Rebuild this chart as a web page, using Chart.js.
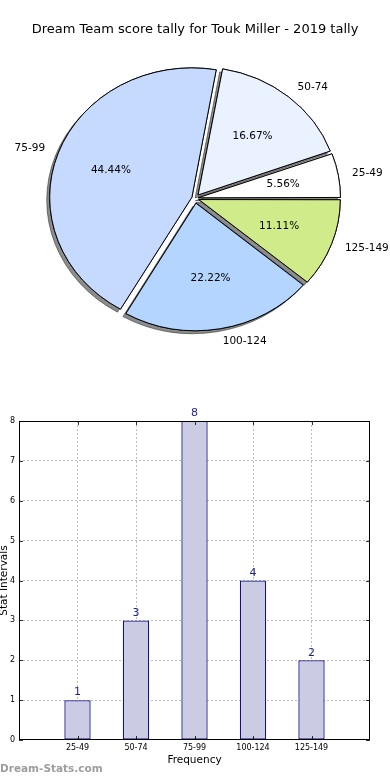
<!DOCTYPE html>
<html lang="en">
<head>
  <meta charset="UTF-8">
  <title>Dream Team score tally for Touk Miller - 2019 tally</title>
  <script src="https://cdn.jsdelivr.net/npm/chart.js"></script>
  <style>
    html, body { margin: 0; padding: 0; background: #fff; }
    body { width: 390px; height: 780px; position: relative; overflow: hidden; font-family: 'DejaVu Sans', sans-serif; }
    #pieWrap { position: absolute; left: 0; top: 0; width: 390px; height: 395px; }
    #barWrap { position: absolute; left: 0; top: 395px; width: 390px; height: 385px; }
    .watermark { position: absolute; left: 0; top: 762px; font: bold 10.5px 'DejaVu Sans', sans-serif; color: #9d9d9d; }
  </style>
</head>
<body>
  <div id="pieWrap"><canvas id="pieChart"></canvas></div>
  <div id="barWrap"><canvas id="barChart"></canvas></div>
  <div class="watermark">Dream-Stats.com</div>

  <script>
    // data
    var categories = ['25-49', '50-74', '75-99', '100-124', '125-149'];
    var counts = [1, 3, 8, 4, 2];
    var sliceColors = ['#ffffff', '#eaf1ff', '#c6d9ff', '#b4d5ff', '#cfeb8a'];
    var yTicks = [0, 1, 2, 3, 4, 5, 6, 7, 8];

    var total = counts.reduce(function (a, b) { return a + b; }, 0);

    // matplotlib goes counter-clockwise from 3 o'clock, chart.js clockwise -> reverse order
    var pieLabels = categories.slice().reverse();
    var pieValues = counts.slice().reverse();
    var pieFill = sliceColors.slice().reverse();

    var EXPLODE = 5.5;   // px each wedge is pulled out
    var SQUASH = 0.91;   // pie is drawn slightly flattened

    // chart.js moves an arc by offset/4 * (1 + fix), undo that so every wedge moves EXPLODE px
    function arcOffset(c) {
      var circ = c.dataset.data[c.dataIndex] / total * 2 * Math.PI;
      var fix = 1 - Math.sin(Math.min(Math.PI, circ));
      return EXPLODE * 4 / (1 + fix);
    }

    var pieDecor = {
      id: 'pieDecor',
      beforeDatasetsDraw: function (chart) {
        var meta = chart.getDatasetMeta(0);
        var ctx = chart.ctx;
        var cx = meta.data[0].x, cy = meta.data[0].y;
        ctx.save();
        ctx.translate(cx, cy);
        ctx.scale(1, SQUASH);
        ctx.translate(-cx, -cy);
        // shadow pass, painted under all wedges
        ctx.save();
        ctx.shadowColor = 'rgba(0,0,0,0.45)';
        ctx.shadowOffsetX = -3;
        ctx.shadowOffsetY = 3;
        ctx.shadowBlur = 0;
        meta.data.forEach(function (a) { a.draw(ctx); });
        ctx.restore();
      },
      afterDatasetsDraw: function (chart) {
        var ctx = chart.ctx;
        ctx.restore();
        var meta = chart.getDatasetMeta(0);
        ctx.save();
        ctx.fillStyle = '#000';
        ctx.font = '10.5px "DejaVu Sans"';
        ctx.textBaseline = 'middle';
        meta.data.forEach(function (a, i) {
          var p = a.getProps(['x', 'y', 'startAngle', 'endAngle', 'outerRadius'], true);
          var mid = (p.startAngle + p.endAngle) / 2;
          var cos = Math.cos(mid), sin = Math.sin(mid);
          function place(f) {
            var d = EXPLODE + f * p.outerRadius;
            return [p.x + d * cos, p.y + SQUASH * d * sin];
          }
          var o = place(1.1);
          ctx.textAlign = cos > 0 ? 'left' : 'right';
          ctx.fillText(pieLabels[i], o[0], o[1]);
          var q = place(0.6);
          ctx.textAlign = 'center';
          ctx.fillText((pieValues[i] / total * 100).toFixed(2) + '%', q[0], q[1]);
        });
        ctx.restore();
      }
    };

    new Chart(document.getElementById('pieChart'), {
      type: 'pie',
      data: {
        labels: pieLabels,
        datasets: [{
          data: pieValues,
          backgroundColor: pieFill,
          borderColor: '#000',
          borderWidth: 1,
          offset: arcOffset
        }]
      },
      options: {
        animation: false,
        responsive: true,
        maintainAspectRatio: false,
        rotation: 90,
        radius: 140,
        layout: { padding: { top: 0, bottom: 36, left: 0, right: 0 } },
        plugins: {
          legend: { display: false },
          tooltip: { enabled: false },
          title: {
            display: true,
            text: 'Dream Team score tally for Touk Miller - 2019 tally',
            color: '#000',
            font: { family: 'DejaVu Sans', size: 13, weight: 'normal' },
            padding: { top: 22, bottom: 0 }
          }
        }
      },
      plugins: [pieDecor]
    });

    // frame, inward tick marks and value labels for the bar chart
    var barDecor = {
      id: 'barDecor',
      afterDatasetsDraw: function (chart) {
        var ctx = chart.ctx, a = chart.chartArea;
        var xs = chart.scales.x, ys = chart.scales.y;
        ctx.save();
        ctx.strokeStyle = '#000';
        ctx.lineWidth = 1;
        ctx.strokeRect(a.left + 0.5, a.top + 0.5, a.right - a.left - 1, a.bottom - a.top - 1);
        ctx.lineWidth = 0.8;
        ctx.beginPath();
        yTicks.forEach(function (v) {
          var py = Math.round(ys.getPixelForValue(v)) + 0.5;
          ctx.moveTo(a.left, py); ctx.lineTo(a.left + 4, py);
          ctx.moveTo(a.right, py); ctx.lineTo(a.right - 4, py);
        });
        categories.forEach(function (c, i) {
          var px = Math.round(xs.getPixelForValue(i + 1)) + 0.5;
          ctx.moveTo(px, a.bottom); ctx.lineTo(px, a.bottom - 4);
          ctx.moveTo(px, a.top); ctx.lineTo(px, a.top + 4);
        });
        ctx.stroke();

        var meta = chart.getDatasetMeta(0);
        ctx.fillStyle = '#1f1f8f';
        ctx.font = '11px "DejaVu Sans"';
        ctx.textAlign = 'center';
        ctx.textBaseline = 'bottom';
        meta.data.forEach(function (bar, i) {
          ctx.fillText(String(counts[i]), bar.x, bar.y - 2);
        });
        ctx.restore();
      }
    };

    new Chart(document.getElementById('barChart'), {
      type: 'bar',
      data: {
        datasets: [{
          data: counts.map(function (v, i) { return { x: i + 1, y: v }; }),
          backgroundColor: '#cbcbe3',
          borderColor: '#10108a',
          borderWidth: 1.3,
          borderSkipped: false,
          barPercentage: 0.45,
          categoryPercentage: 1
        }]
      },
      options: {
        animation: false,
        responsive: true,
        maintainAspectRatio: false,
        layout: { padding: { top: 26, right: 20, left: 0, bottom: 0 } },
        plugins: { legend: { display: false }, tooltip: { enabled: false } },
        scales: {
          x: {
            type: 'linear',
            offset: false,
            min: 0,
            max: categories.length + 1,
            afterFit: function (s) { s.height = 40; },
            ticks: {
              stepSize: 1,
              autoSkip: false,
              maxRotation: 0,
              padding: 3,
              color: '#000',
              font: { family: 'DejaVu Sans', size: 8 },
              callback: function (v) { return categories[v - 1] || ''; }
            },
            grid: {
              offset: false,
              drawTicks: false,
              lineWidth: 1,
              color: function (c) {
                return (c.tick && c.tick.value > 0 && c.tick.value <= categories.length) ? '#bdbdbd' : 'rgba(0,0,0,0)';
              }
            },
            border: { display: false, dash: [2, 2] },
            title: {
              display: true,
              text: 'Frequency',
              color: '#000',
              font: { family: 'DejaVu Sans', size: 10.5 },
              padding: { top: 0, bottom: 13.7 }
            }
          },
          y: {
            min: 0,
            max: 8,
            afterFit: function (s) { s.width = 19; },
            ticks: {
              stepSize: 1,
              padding: 4,
              color: '#000',
              font: { family: 'DejaVu Sans', size: 8 }
            },
            grid: {
              drawTicks: false,
              lineWidth: 1,
              color: function (c) {
                return (c.tick && c.tick.value > 0 && c.tick.value < 8) ? '#bdbdbd' : 'rgba(0,0,0,0)';
              }
            },
            border: { display: false, dash: [2, 2] },
            title: {
              display: true,
              text: 'Stat Intervals',
              color: '#000',
              font: { family: 'DejaVu Sans', size: 10.5, lineHeight: 0.8 },
              padding: { top: 0, bottom: 0 }
            }
          }
        }
      },
      plugins: [barDecor]
    });
  </script>
</body>
</html>
